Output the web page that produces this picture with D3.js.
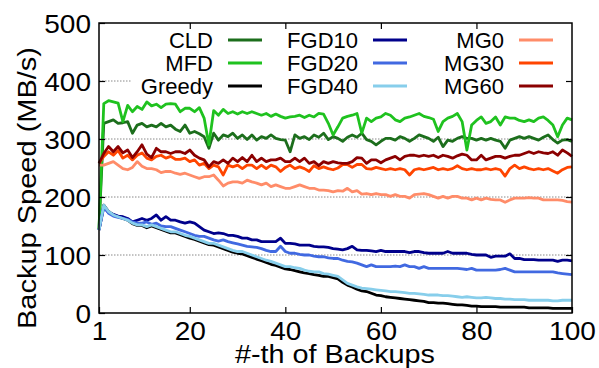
<!DOCTYPE html>
<html>
<head>
<meta charset="utf-8">
<script src="https://cdn.jsdelivr.net/npm/d3@7"></script>
<style>
  body { margin: 0; background: #fff; }
  text { font-family: Helvetica, Arial, "Liberation Sans", sans-serif; fill: #000; }
</style>
</head>
<body>
<svg id="chart" width="599" height="368"></svg>
<script>
// backup index on x
const backups = d3.range(1, 101);
const yTicks = [0, 100, 200, 300, 400, 500];
const xTicks = [1, 20, 40, 60, 80, 100];

// backup speed (MB/s) per scheme
const cld = [
  145,327,330,333,327,328,330,310,324,327, 321,324,321,327,321,324,317,313,324,310,
  313,309,304,284,310,298,307,304,310,301, 307,299,307,298,304,301,307,301,299,298,
  278,307,301,304,299,307,303,310,299,304, 301,296,303,307,303,310,299,296,290,296,
  301,301,298,304,301,296,301,307,304,301, 296,303,287,298,296,301,304,301,301,298,
  301,298,301,298,296,284,298,301,304,301, 304,301,298,303,307,299,293,298,299,296];
const mfd = [
  145,361,366,364,362,330,358,347,356,351, 364,357,360,354,360,361,360,347,353,353,
  347,354,336,290,349,341,351,344,347,343, 347,344,347,344,341,344,339,343,339,336,
  338,339,341,337,341,338,344,343,327,307, 321,336,339,341,344,310,336,330,336,338,
  344,341,333,330,336,338,341,344,339,337, 334,313,330,336,339,344,330,281,324,332,
  338,327,330,338,324,338,336,336,332,330, 333,330,336,338,332,324,304,324,336,333];
const greedy = [
  143,186,175,169,166,163,160,154,151,151, 147,150,147,144,141,138,138,135,132,129,
  127,124,121,118,117,114,111,108,105,103, 102,99,96,93,90,87,84,82,79,76,
  75,73,71,69,68,66,65,63,63,61, 59,53,48,45,41,38,37,34,31,30,
  28,27,26,25,24,23,22,21,20,18, 18,17,17,16,15,14,14,13,12,12,
  11,11,11,11,10,10,10,10,10,10, 9,9,9,9,9,8,8,8,8,8];
const fgd10 = [
  143,183,173,170,167,166,163,157,160,163, 160,163,169,160,166,160,160,157,155,157,
  155,149,143,140,137,138,137,134,134,132, 129,129,126,126,123,123,123,123,129,120,
  120,119,117,117,117,115,114,114,113,111, 110,109,111,115,109,108,108,107,106,108,
  106,106,106,106,106,104,106,106,104,103, 103,103,103,106,103,103,103,103,101,100,
  100,100,96,98,98,98,102,94,94,92, 92,92,91,91,91,91,89,91,91,90];
const fgd20 = [
  143,183,172,167,165,163,161,157,155,155, 157,153,155,150,149,149,146,143,140,137,
  134,132,132,129,126,124,126,123,121,119, 117,115,114,113,111,108,106,106,115,106,
  103,103,101,100,100,98,97,97,95,94, 94,91,89,88,86,83,80,83,80,80,
  80,80,81,80,83,80,80,77,80,77, 77,77,77,77,77,77,76,75,77,74,
  74,74,74,74,75,77,74,71,71,71, 71,71,71,71,71,71,69,68,67,66];
const fgd40 = [
  143,186,175,169,166,163,160,155,152,152, 149,152,149,146,143,140,140,137,134,132,
  129,126,123,120,120,117,114,111,108,106, 106,103,100,97,94,91,89,86,83,80,
  80,78,77,74,72,71,71,68,67,65, 63,57,51,48,45,43,42,41,40,39,
  38,37,37,36,35,34,34,33,32,31, 31,31,30,30,29,28,27,28,27,26,
  26,27,26,25,25,24,24,23,23,23, 22,22,22,22,22,21,21,22,22,22];
const mg0 = [
  255,255,258,261,255,249,247,251,261,253, 249,249,247,242,244,244,241,239,241,238,
  235,232,235,235,238,229,219,224,226,226, 224,229,226,224,221,224,218,221,218,215,
  215,218,221,218,215,215,212,212,211,209, 211,210,215,209,211,205,206,204,206,204,
  204,201,204,201,201,198,204,205,206,204, 201,198,201,198,201,201,198,198,195,198,
  195,198,196,195,195,191,195,198,198,198, 199,198,198,195,195,195,195,194,192,191];
const mg30 = [
  258,270,278,272,280,267,272,264,272,276, 267,264,270,272,267,270,265,265,267,261,
  264,255,258,249,255,252,238,255,252,255, 249,255,255,249,255,249,255,252,244,251,
  255,249,252,249,244,254,249,252,249,247, 250,256,256,251,256,256,249,248,251,249,
  247,249,247,249,247,238,247,249,247,249, 251,247,249,247,249,254,249,247,249,247,
  247,249,247,249,247,236,249,255,249,252, 249,247,249,247,249,245,241,247,251,252];
const mg60 = [
  258,275,287,278,287,276,281,268,278,290, 274,268,284,278,278,275,278,278,275,281,
  272,267,264,252,261,258,264,258,267,261, 268,261,272,261,267,261,264,264,267,261,
  261,267,261,267,258,261,254,261,258,261, 259,258,258,261,268,267,258,264,264,259,
  264,267,270,264,270,272,272,270,272,270, 272,268,272,270,267,271,274,272,264,264,
  272,264,267,270,270,267,270,272,272,275, 278,275,278,276,275,278,272,281,276,270];

const seriesNames = ["CLD", "MFD", "Greedy", "FGD10", "FGD20", "FGD40", "MG0", "MG30", "MG60"];
const seriesValues = [cld, mfd, greedy, fgd10, fgd20, fgd40, mg0, mg30, mg60];
const colors = ["#1c6e1c", "#1fc21f", "#000000", "#00008b", "#4169e1", "#87ceeb", "#ff8c69", "#ff4500", "#8b0000"];

const svg = d3.select("#chart");
const x0 = 99, x1 = 572, yTop = 23, yBot = 313;

const x = d3.scaleLinear().domain([1, 100]).range([x0, x1]);
const y = d3.scaleLinear().domain([0, 500]).range([yBot, yTop]);

// dotted grid
svg.append("g").selectAll("line")
  .data(yTicks.filter(t => t > 0 && t < 500))
  .enter().append("line")
  .attr("x1", x0).attr("x2", x1)
  .attr("y1", d => y(d)).attr("y2", d => y(d))
  .attr("stroke", "#888").attr("stroke-width", 1)
  .attr("stroke-dasharray", "1.5,1.5");

// legend box hides the grid behind it
svg.append("rect")
  .attr("x", 131).attr("y", 25).attr("width", x1 - 131).attr("height", 71)
  .attr("fill", "#fff");

const line = d3.line()
  .x((d, i) => x(backups[i]))
  .y(d => y(d));

svg.append("g").selectAll("path")
  .data(seriesValues)
  .enter().append("path")
  .attr("d", line)
  .attr("fill", "none")
  .attr("stroke", (d, i) => colors[i])
  .attr("stroke-width", 2.8)
  .attr("stroke-linejoin", "round");

// axes with inward ticks
const yAxis = svg.append("g").attr("transform", `translate(${x0},0)`)
  .call(d3.axisLeft(y).tickValues(yTicks).tickSize(-6).tickPadding(8));
const xAxis = svg.append("g").attr("transform", `translate(0,${yBot})`)
  .call(d3.axisBottom(x).tickValues(xTicks).tickSize(-6).tickPadding(8.5));
svg.append("g").attr("transform", `translate(0,${yTop})`)
  .call(d3.axisTop(x).tickValues([20, 40, 60, 80]).tickSize(-6).tickFormat(""));
svg.append("g").attr("transform", `translate(${x1},0)`)
  .call(d3.axisRight(y).tickValues([100, 200, 300, 400]).tickSize(-6).tickFormat(""));

svg.selectAll(".domain").remove();
svg.selectAll(".tick line").attr("stroke", "#000").attr("stroke-width", 1.2);
// the figure's digits are a bit wide for their height
svg.selectAll(".tick text")
  .style("font-size", "26px").attr("fill", "#000")
  .attr("textLength", d => String(d).length * 15.6)
  .attr("lengthAdjust", "spacingAndGlyphs");
yAxis.selectAll(".tick text").attr("dy", "0.35em");

svg.append("rect")
  .attr("x", x0).attr("y", yTop).attr("width", x1 - x0).attr("height", yBot - yTop)
  .attr("fill", "none").attr("stroke", "#000").attr("stroke-width", 1.5);

// titles
svg.append("text")
  .attr("transform", "rotate(-90)")
  .attr("x", -188).attr("y", 36)
  .attr("text-anchor", "middle")
  .style("font-size", "26px")
  .attr("textLength", 282).attr("lengthAdjust", "spacingAndGlyphs")
  .text("Backup Speed (MB/s)");

svg.append("text")
  .attr("x", 335).attr("y", 363)
  .attr("text-anchor", "middle")
  .style("font-size", "26px")
  .attr("textLength", 200).attr("lengthAdjust", "spacingAndGlyphs")
  .text("#-th of Backups");

// legend: three columns of three
const colText = [213, 358, 504];
const colLine = [228, 373, 519];
const rowY = [40, 63, 86];
const legend = svg.append("g").selectAll("g")
  .data(seriesNames)
  .enter().append("g");
legend.append("text")
  .attr("x", (d, i) => colText[Math.floor(i / 3)])
  .attr("y", (d, i) => rowY[i % 3] + 8)
  .attr("text-anchor", "end")
  .style("font-size", "22px")
  .text(d => d);
legend.append("line")
  .attr("x1", (d, i) => colLine[Math.floor(i / 3)])
  .attr("x2", (d, i) => colLine[Math.floor(i / 3)] + 34)
  .attr("y1", (d, i) => rowY[i % 3])
  .attr("y2", (d, i) => rowY[i % 3])
  .attr("stroke", (d, i) => colors[i])
  .attr("stroke-width", 3);
</script>
</body>
</html>
